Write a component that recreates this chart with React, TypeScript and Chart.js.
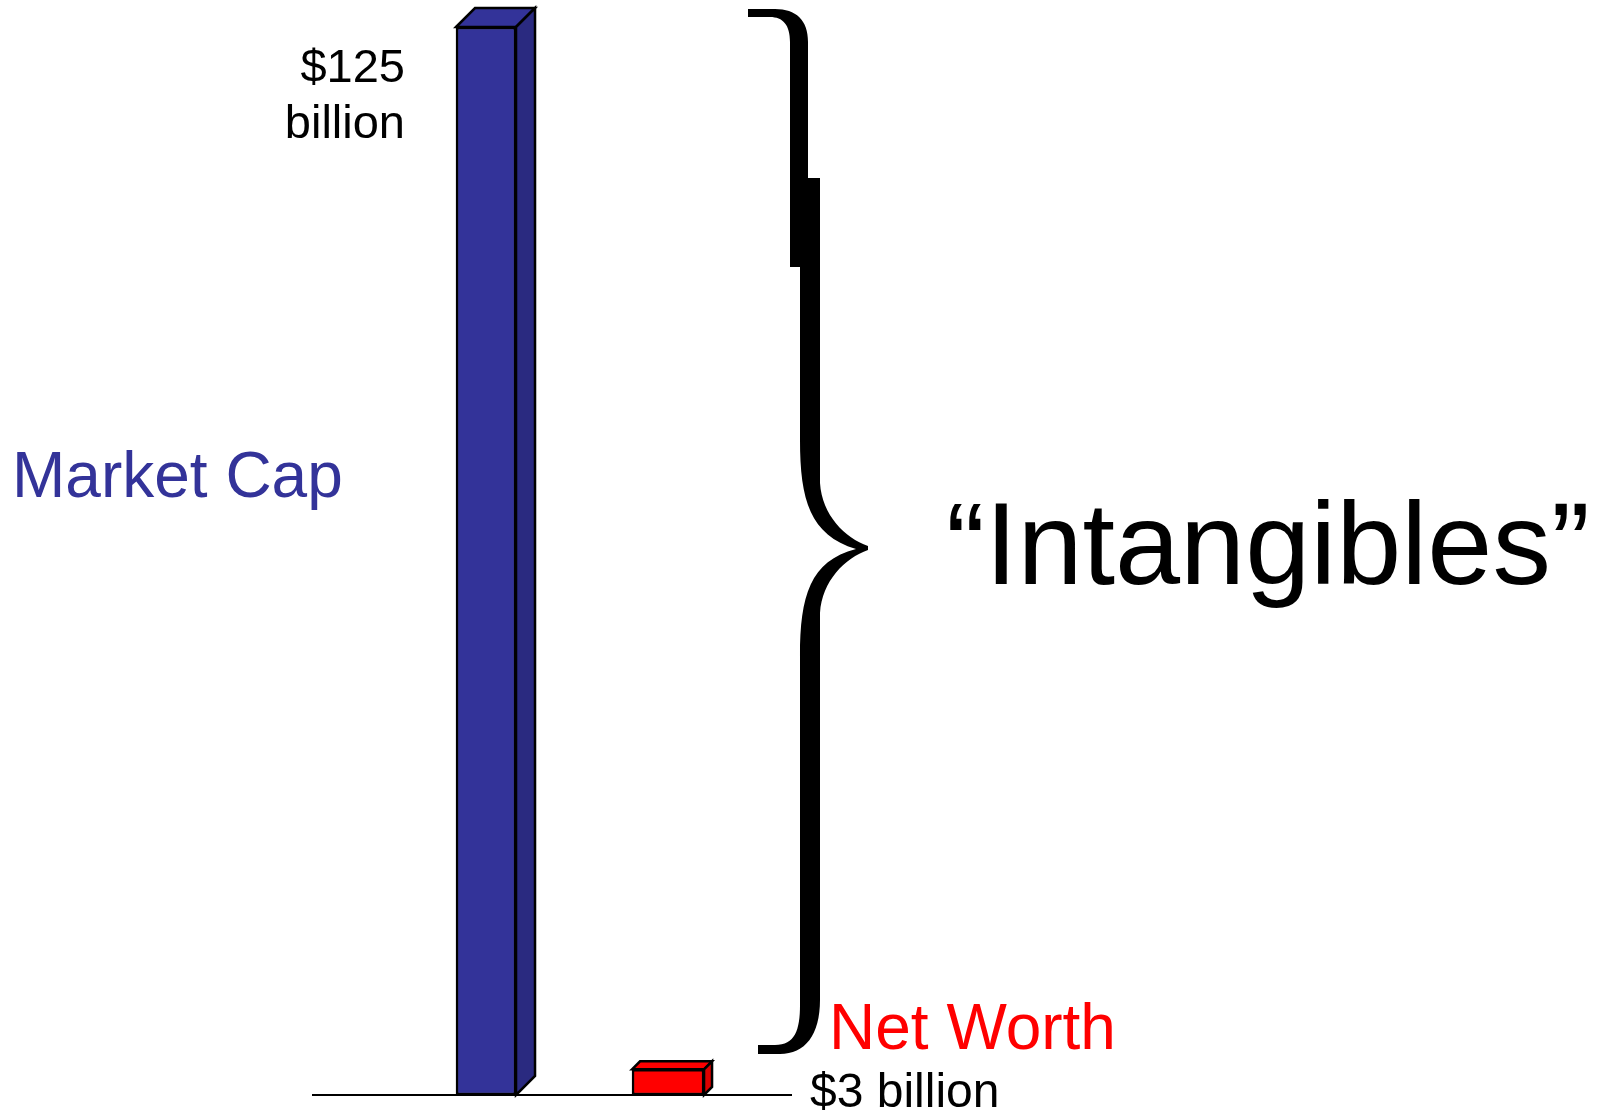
import React, { useEffect, useRef } from "react";
import { Chart, registerables } from "chart.js";

Chart.register(...registerables);

// ---- data ----
const categories = ["Market Cap", "Net Worth"];
const valuesBillion = [125, 3];
const marketCapLabel = ["$125", "billion"];
const netWorthLabel = "$3 billion";
const braceLabel = "\u201CIntangibles\u201D";

// ---- styles ----
const FRONT = ["#333399", "#ff0000"];
const SIDE = ["#2a2a80", "#dd0000"];
const TOP = ["#333399", "#ff0000"];
const DEPTH = [19, 8];
const THICK = [60, 72];
const LABEL_COLORS = ["#333399", "#ff0000"];
const FONT = "'Liberation Sans', Arial, Helvetica, sans-serif";

const decor = {
  id: "decor",
  beforeDatasetsDraw(chart: any) {
    const ctx = chart.ctx;
    const { left, right } = chart.chartArea;
    const base = chart.scales.y.getPixelForValue(0);
    ctx.save();
    ctx.strokeStyle = "#000";
    ctx.lineWidth = 2;
    ctx.beginPath();
    ctx.moveTo(left, base);
    ctx.lineTo(right, base);
    ctx.stroke();
    ctx.restore();
  },
  afterDatasetsDraw(chart: any) {
    const ctx = chart.ctx;
    const base = chart.scales.y.getPixelForValue(0);
    ctx.save();
    ctx.strokeStyle = "#000";
    ctx.lineWidth = 2.5;
    ctx.lineJoin = "miter";
    chart.data.datasets.forEach((_ds: any, i: number) => {
      const el = chart.getDatasetMeta(i).data[0];
      const { x, y, width } = el.getProps(["x", "y", "width"], true);
      const l = x - width / 2;
      const r = x + width / 2;
      const d = DEPTH[i];
      ctx.beginPath();
      ctx.moveTo(l, y);
      ctx.lineTo(l + d, y - d);
      ctx.lineTo(r + d, y - d);
      ctx.lineTo(r, y);
      ctx.closePath();
      ctx.fillStyle = TOP[i];
      ctx.fill();
      ctx.stroke();
      ctx.beginPath();
      ctx.moveTo(r, y);
      ctx.lineTo(r + d, y - d);
      ctx.lineTo(r + d, base - d);
      ctx.lineTo(r, base);
      ctx.closePath();
      ctx.fillStyle = SIDE[i];
      ctx.fill();
      ctx.stroke();
    });
    ctx.restore();
  },
  afterDraw(chart: any) {
    const ctx = chart.ctx;
    const ox = chart.chartArea.right - 792;
    const oy = chart.chartArea.top - 27;
    const X = (v: number) => ox + v;
    const Y = (v: number) => oy + v;
    ctx.save();
    ctx.fillStyle = "#000";

    // brace piece A (top hook + first stem)
    ctx.beginPath();
    ctx.moveTo(X(748), Y(9));
    ctx.lineTo(X(775), Y(9));
    ctx.bezierCurveTo(X(796), Y(9), X(808), Y(20), X(808), Y(42));
    ctx.lineTo(X(808), Y(267));
    ctx.lineTo(X(790), Y(267));
    ctx.lineTo(X(790), Y(42));
    ctx.bezierCurveTo(X(790), Y(25), X(783), Y(17), X(770), Y(17));
    ctx.lineTo(X(748), Y(17));
    ctx.closePath();
    ctx.fill();

    // piece B
    ctx.fillRect(X(800), Y(178), 20, 264);

    // piece C (middle + bottom)
    ctx.beginPath();
    ctx.moveTo(X(800), Y(440));
    ctx.lineTo(X(820), Y(440));
    ctx.lineTo(X(820), Y(483));
    ctx.bezierCurveTo(X(822), Y(515), X(845), Y(538), X(868), Y(546));
    ctx.lineTo(X(868), Y(550));
    ctx.bezierCurveTo(X(845), Y(558), X(822), Y(581), X(820), Y(613));
    ctx.lineTo(X(820), Y(1000));
    ctx.bezierCurveTo(X(820), Y(1035), X(805), Y(1054), X(780), Y(1054));
    ctx.lineTo(X(758), Y(1054));
    ctx.lineTo(X(758), Y(1045));
    ctx.lineTo(X(775), Y(1045));
    ctx.bezierCurveTo(X(795), Y(1045), X(800), Y(1030), X(800), Y(1005));
    ctx.lineTo(X(800), Y(656));
    ctx.bezierCurveTo(X(800), Y(596), X(810), Y(561), X(856), Y(549));
    ctx.bezierCurveTo(X(810), Y(535), X(800), Y(500), X(800), Y(440));
    ctx.closePath();
    ctx.fill();

    // texts
    ctx.textBaseline = "alphabetic";
    ctx.textAlign = "right";
    ctx.fillStyle = "#000";
    ctx.font = `47px ${FONT}`;
    ctx.fillText(marketCapLabel[0], X(405), Y(82));
    ctx.fillText(marketCapLabel[1], X(405), Y(138));

    ctx.textAlign = "left";
    ctx.font = `64px ${FONT}`;
    ctx.fillStyle = LABEL_COLORS[0];
    ctx.fillText(categories[0], X(12), Y(497));

    ctx.fillStyle = LABEL_COLORS[1];
    ctx.fillText(categories[1], X(829), Y(1049));

    ctx.fillStyle = "#000";
    ctx.font = `117px ${FONT}`;
    ctx.fillText(braceLabel, X(946), Y(584));

    ctx.font = `48px ${FONT}`;
    ctx.fillText(netWorthLabel, X(810), Y(1107));
    ctx.restore();
  },
};

export default function App() {
  const ref = useRef<HTMLCanvasElement | null>(null);
  useEffect(() => {
    if (!ref.current) return;
    const chart = new Chart(ref.current, {
      type: "bar",
      data: {
        datasets: categories.map((c, i) => ({
          label: c,
          data: [{ x: i, y: valuesBillion[i] }],
          backgroundColor: FRONT[i],
          borderColor: "#000",
          borderWidth: 2.5,
          borderSkipped: false,
          barThickness: THICK[i],
          grouped: false,
        })),
      } as any,
      options: {
        responsive: false,
        animation: false,
        devicePixelRatio: 1,
        layout: { padding: { left: 312, right: 808, top: 27, bottom: 18 } },
        plugins: {
          legend: { display: false },
          tooltip: { enabled: false },
          title: { display: false },
        },
        scales: {
          x: { type: "linear", display: false, offset: false, min: -0.956, max: 1.681 },
          y: { display: false, min: 0, max: 125 },
        },
      } as any,
      plugins: [decor],
    });
    return () => chart.destroy();
  }, []);
  return (
    <div style={{ position: "absolute", left: 0, top: 0, width: 1600, height: 1113, background: "#fff" }}>
      <canvas ref={ref} width={1600} height={1113} style={{ display: "block" }} />
    </div>
  );
}
